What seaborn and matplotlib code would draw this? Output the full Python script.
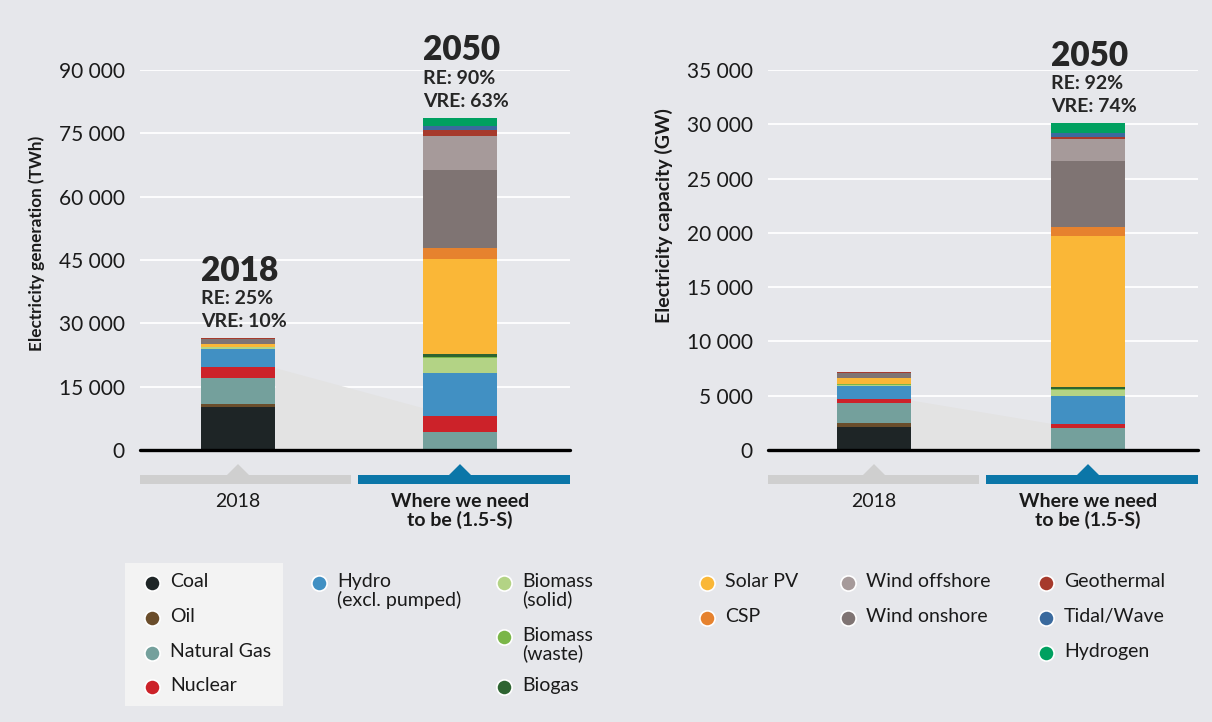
import matplotlib
matplotlib.use("Agg")
import matplotlib.pyplot as plt
import matplotlib.transforms as mtransforms
import numpy as np
import seaborn as sns

# DATA
scenarios = ["2018", "Where we need\nto be (1.5-S)"]
sources = ["Coal", "Oil", "Natural Gas", "Nuclear", "Hydro\n(excl. pumped)",
           "Biomass\n(solid)", "Biomass\n(waste)", "Biogas", "Solar PV", "CSP",
           "Wind onshore", "Wind offshore", "Geothermal", "Tidal/Wave", "Hydrogen"]
colors = ["#1e2526", "#6a4d2b", "#74a09c", "#cc2229", "#4190c3",
          "#b3d385", "#7ab648", "#2e6431", "#fab737", "#e6822e",
          "#7f7473", "#a69a9a", "#a63a2c", "#3a6a9e", "#00a060"]

# electricity generation (TWh), 2018 and 2050
gen_2018 = [10200, 710, 6160, 2600, 4190, 450, 100, 100, 570, 40, 1150, 70, 90, 0, 0]
gen_2050 = [0, 0, 4200, 3800, 10200, 3480, 300, 710, 22650, 2600, 18470, 8050, 1420, 790, 2050]
# electricity capacity (GW), 2018 and 2050
cap_2018 = [2150, 370, 1840, 370, 1190, 110, 10, 20, 540, 6, 500, 30, 13, 0, 0]
cap_2050 = [0, 0, 2000, 430, 2580, 550, 60, 150, 13930, 830, 6060, 2020, 215, 370, 890]

# shaded band between the bars
shade_gen = [19500, 10000]
shade_cap = [4600, 2450]

years_gen = ["2018", "2050"]
re_gen = [25, 90]
vre_gen = [10, 63]
years_cap = [None, "2050"]
re_cap = [None, 92]
vre_cap = [None, 74]

BG = "#e6e7eb"
FONT = "Lato"

sns.set_style("white")
plt.rcParams["font.family"] = [FONT, "DejaVu Sans"]

fig = plt.figure(figsize=(12.12, 7.22), dpi=100, facecolor=BG)
W, H = 1212, 722


def fmt(v, pos):
    return f"{v:,.0f}".replace(",", " ")


def draw_chart(ax, v2018, v2050, shade, years, res, vres, ymax, step, xlim, width,
               ylabel, ylab_size, ylab_xy):
    ax.set_facecolor(BG)
    bottom = np.zeros(2)
    for i, src in enumerate(sources):
        vals = np.array([v2018[i], v2050[i]], dtype=float)
        sns.barplot(x=scenarios, y=vals, bottom=bottom, color=colors[i], width=width,
                    saturation=1, linewidth=0, errorbar=None, ax=ax, zorder=2)
        bottom = bottom + vals
    totals = bottom

    # light shaded band linking the two bars
    xs = [0 + width / 2, 1 - width / 2]
    ax.fill_between(xs, [0, 0], shade, color="#e3e3e3", lw=0, zorder=1)

    ax.set_xlim(*xlim)
    ax.set_ylim(0, ymax)
    ax.set_yticks(np.arange(0, ymax + 1, step))
    ax.yaxis.set_major_formatter(plt.FuncFormatter(fmt))
    ax.tick_params(axis="y", length=0, pad=11, labelsize=15, labelcolor="#1a1a1a")
    ax.tick_params(axis="x", length=0, labelbottom=False)
    ax.grid(axis="y", color="white", lw=1.3)
    ax.set_axisbelow(True)
    for s in ax.spines.values():
        s.set_visible(False)
    ax.axhline(0, color="black", lw=2.4, zorder=5, clip_on=False)
    ax.set_xlabel("")
    ax.set_ylabel(ylabel, fontsize=ylab_size, fontweight="bold", color="#1a1a1a")
    ax.yaxis.set_label_coords(*ylab_xy)

    # annotations above bars
    for i in range(2):
        if years[i] is None:
            continue
        x0 = i - width / 2
        ax.annotate(f"VRE: {vres[i]}%", xy=(x0, totals[i]), xytext=(0, 8),
                    textcoords="offset points", ha="left", va="baseline",
                    fontsize=14, fontweight="bold", annotation_clip=False)
        ax.annotate(f"RE: {res[i]}%", xy=(x0, totals[i]), xytext=(0, 24.5),
                    textcoords="offset points", ha="left", va="baseline",
                    fontsize=14, fontweight="bold", annotation_clip=False)
        ax.annotate(years[i], xy=(x0, totals[i]), xytext=(0, 41.5),
                    textcoords="offset points", ha="left", va="baseline",
                    fontsize=24, fontweight="heavy", annotation_clip=False)

    # category bands below axis
    trans = mtransforms.blended_transform_factory(ax.transData, ax.transAxes)
    span = xlim[1] - xlim[0]
    band_cols = ["#cfcfcf", "#0b76a8"]
    band_x = [(0.0, 0.491), (0.507, 1.0)]
    y0, y1 = -0.0895, -0.0658
    half = 11 / 430 * span
    for i in range(2):
        ax.add_patch(plt.Rectangle((band_x[i][0], y0), band_x[i][1] - band_x[i][0], y1 - y0,
                                   transform=ax.transAxes, color=band_cols[i], clip_on=False, lw=0))
        tri = plt.Polygon([(i - half, y1), (i + half, y1), (i, -0.037)], closed=True,
                          transform=trans, color=band_cols[i], clip_on=False, lw=0)
        ax.add_patch(tri)
        ax.text(i, -0.113, scenarios[i], transform=trans, ha="center", va="top",
                fontsize=14, fontweight="normal" if i == 0 else "bold",
                color="#1a1a1a", linespacing=1.05)


ax1 = fig.add_axes([140 / W, (H - 450) / H, 430 / W, 380 / H])
draw_chart(ax1, gen_2018, gen_2050, shade_gen, years_gen, re_gen, vre_gen, 90000, 15000,
           (-0.4414, 1.4955), 0.3333, "Electricity generation (TWh)", 12.3, (-0.222, 0.543))

ax2 = fig.add_axes([768 / W, (H - 450) / H, 430 / W, 380 / H])
draw_chart(ax2, cap_2018, cap_2050, shade_cap, years_cap, re_cap, vre_cap, 35000, 5000,
           (-0.4953, 1.514), 0.3458, "Electricity capacity (GW)", 14, (-0.221, 0.616))

# LEGEND (pixel coordinates overlay)
lax = fig.add_axes([0, 0, 1, 1])
lax.set_xlim(0, W)
lax.set_ylim(H, 0)
lax.axis("off")
lax.add_patch(plt.Rectangle((125, 563), 158, 143, color="#f3f3f3", lw=0, zorder=0))

leg_pos = [(152, 583), (152, 618), (152, 653), (152, 687),
           (319, 583), (504, 583), (504, 637), (504, 687),
           (707, 583), (707, 618), (848, 618), (848, 583),
           (1046, 583), (1046, 618), (1046, 653)]
for (px, py), name, c in zip(leg_pos, sources, colors):
    lax.scatter([px], [py], s=120, color=c, edgecolors="white", linewidths=1.2, zorder=3)
    lax.text(px + 18, py - 10, name, ha="left", va="top", fontsize=14,
             color="#1a1a1a", linespacing=1.05, zorder=3)

fig.savefig("out.png", dpi=100, facecolor=BG)
